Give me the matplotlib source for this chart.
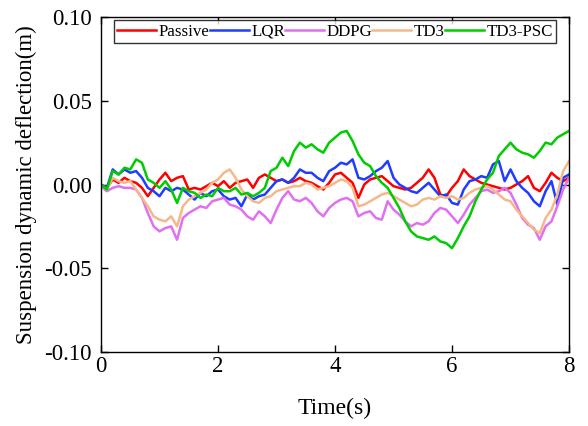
import numpy as np
import matplotlib
matplotlib.use("Agg")
import matplotlib.pyplot as plt

# time axis, 0.1 s steps
t = np.round(np.arange(0, 8.01, 0.1), 2)

passive = [0.0, -0.002, 0.003, 0.001, 0.004, 0.002, 0.001, -0.002, -0.007, -0.002,
           0.003, 0.007, 0.002, 0.004, 0.005, -0.003, -0.002, -0.003, -0.001, 0.001,
           -0.001, 0.002, -0.002, 0.001, 0.002, 0.003, -0.002, 0.004, 0.006, 0.004,
           0.002, 0.003, 0.001, 0.002, 0.004, 0.002, 0.001, -0.001, -0.003, 0.001,
           0.006, 0.007, 0.004, 0.001, -0.008, 0.0, 0.003, 0.004, 0.005, 0.002,
           -0.001, -0.002, -0.003, -0.002, 0.001, 0.004, 0.009, 0.004, -0.006, -0.007,
           -0.002, 0.002, 0.009, 0.005, 0.003, 0.001, 0.0, -0.001, -0.002, -0.003,
           -0.002, 0.0, 0.002, 0.005, -0.002, -0.004, 0.001, 0.007, 0.004, 0.002,
           0.004]

lqr = [0.0, -0.002, 0.009, 0.006, 0.009, 0.007, 0.008, 0.004, -0.002, -0.004,
       -0.007, -0.002, -0.004, -0.002, -0.003, -0.006, -0.009, -0.005, -0.007, -0.004,
       -0.003, -0.007, -0.009, -0.008, -0.013, -0.006, -0.009, -0.007, -0.006, -0.002,
       0.002, 0.003, 0.001, 0.004, 0.009, 0.007, 0.007, 0.004, 0.002, 0.008,
       0.010, 0.013, 0.012, 0.015, 0.004, 0.003, 0.005, 0.008, 0.010, 0.014,
       0.004, 0.0, -0.002, -0.004, -0.005, -0.002, 0.001, -0.003, -0.007, -0.006,
       -0.011, -0.012, -0.003, 0.002, 0.003, 0.005, 0.004, 0.012, 0.014, 0.002,
       0.009, 0.002, -0.002, -0.005, -0.010, -0.013, -0.004, 0.002, -0.012, 0.004,
       0.006]

ddpg = [-0.001, -0.004, -0.002, -0.001, -0.002, -0.002, -0.003, -0.008, -0.017, -0.025,
        -0.028, -0.026, -0.025, -0.033, -0.020, -0.017, -0.015, -0.013, -0.014, -0.010,
        -0.009, -0.008, -0.012, -0.013, -0.015, -0.019, -0.021, -0.016, -0.019, -0.023,
        -0.015, -0.008, -0.004, -0.009, -0.010, -0.008, -0.011, -0.016, -0.019, -0.014,
        -0.011, -0.009, -0.008, -0.010, -0.019, -0.017, -0.016, -0.020, -0.021, -0.010,
        -0.015, -0.018, -0.022, -0.025, -0.023, -0.024, -0.022, -0.017, -0.014, -0.015,
        -0.019, -0.023, -0.018, -0.012, -0.008, -0.004, -0.003, -0.005, -0.004, -0.002,
        -0.005, -0.012, -0.020, -0.024, -0.026, -0.033, -0.025, -0.022, -0.013, -0.003,
        0.004]

td3 = [0.0, -0.003, 0.004, 0.002, 0.001, 0.002, -0.003, -0.008, -0.013, -0.019,
       -0.021, -0.022, -0.019, -0.025, -0.013, -0.009, -0.007, -0.005, -0.003, 0.001,
       0.003, 0.007, 0.009, 0.004, -0.003, -0.007, -0.010, -0.011, -0.008, -0.007,
       -0.004, -0.003, -0.002, -0.001, -0.001, 0.001, 0.0, -0.003, -0.002, -0.001,
       0.001, 0.003, 0.002, -0.002, -0.013, -0.012, -0.010, -0.008, -0.006, -0.005,
       -0.007, -0.009, -0.011, -0.013, -0.012, -0.009, -0.008, -0.009, -0.007, -0.008,
       -0.007, -0.009, -0.008, -0.005, -0.003, -0.002, -0.001, -0.003, -0.006, -0.009,
       -0.010, -0.015, -0.019, -0.023, -0.027, -0.029, -0.020, -0.015, -0.006, 0.008,
       0.014]

td3_psc = [0.0, -0.003, 0.008, 0.006, 0.010, 0.009, 0.015, 0.013, 0.003, 0.001,
           -0.002, 0.002, -0.003, -0.011, -0.002, -0.004, -0.005, -0.008, -0.006, -0.007,
           -0.002, -0.004, -0.004, -0.002, -0.006, -0.005, -0.007, -0.005, -0.002, 0.008,
           0.010, 0.016, 0.011, 0.020, 0.025, 0.022, 0.024, 0.021, 0.019, 0.025,
           0.028, 0.031, 0.032, 0.026, 0.018, 0.013, 0.011, 0.005, 0.001, -0.002,
           -0.008, -0.014, -0.022, -0.028, -0.031, -0.032, -0.033, -0.031, -0.034, -0.035,
           -0.038, -0.032, -0.025, -0.019, -0.010, -0.003, 0.003, 0.007, 0.017, 0.021,
           0.025, 0.021, 0.019, 0.018, 0.016, 0.020, 0.025, 0.024, 0.028, 0.030,
           0.032]

series = {
    "Passive": (passive, "#ff0000"),
    "LQR": (lqr, "#1f3cff"),
    "DDPG": (ddpg, "#e070f0"),
    "TD3": (td3, "#f5b88a"),
    "TD3-PSC": (td3_psc, "#00cc00"),
}

plt.rcParams["font.family"] = "Liberation Serif"

fig = plt.figure(figsize=(5.88, 4.26), dpi=100)
ax = fig.add_axes([0.1718, 0.1737, 0.7959, 0.7864])

for name, (vals, col) in series.items():
    ax.plot(t, vals, color=col, linewidth=1.8, label=name)

ax.set_xlim(0, 8)
ax.set_ylim(-0.10, 0.10)
ax.set_xticks([0, 2, 4, 6, 8])
ax.set_yticks([-0.10, -0.05, 0.00, 0.05, 0.10])
ax.yaxis.set_major_formatter(matplotlib.ticker.FormatStrFormatter("%.2f"))
ax.tick_params(direction="in", top=True, right=True, labelsize=16.5, length=5, width=1)
ax.tick_params(axis="y", pad=6.5)
ax.tick_params(axis="x", pad=3)
for sp in ax.spines.values():
    sp.set_linewidth(1)

ax.set_xlabel("Time(s)", fontsize=17, labelpad=15)
ax.set_ylabel("Suspension dynamic deflection(m)", fontsize=16.5, labelpad=5)

leg = ax.legend(loc="upper center", ncol=5, fontsize=12.2, frameon=True, fancybox=False,
                edgecolor="black", handlelength=2.3, handletextpad=0.15,
                columnspacing=0.0, borderpad=0.2, borderaxespad=0.2,
                bbox_to_anchor=(0.5, 1.0))
leg.get_frame().set_linewidth(1)

fig.savefig("out.png", dpi=100)
